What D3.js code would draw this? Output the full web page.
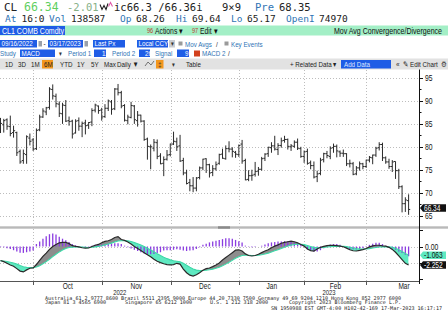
<!DOCTYPE html>
<meta charset="utf-8">
<style>
body {
  margin: 0;
  background: #fff;
  overflow: hidden;
}
svg { display: block; }
.mono { font-family: "DejaVu Sans Mono", monospace; }
.nar { font-family: "Liberation Sans", Arial, sans-serif; }
.grid { stroke: #bdbdbd; stroke-width: 1; stroke-dasharray: 1,2; shape-rendering: crispEdges; }
</style>
<body>
<script src="https://d3js.org/d3.v7.min.js"></script>
<script>

// ---- data (CL1 COMB Comdty, daily, 09/16/2022 - 03/17/2023) ----
var holidays = ["2022-11-24", "2022-12-26", "2023-01-02", "2023-01-16", "2023-02-20"];

var opens = [85.3,84.8,85.9,84.4,83.1,83.1,79.0,77.0,78.3,81.9,81.5,
  79.6,83.7,86.5,87.6,88.6,92.5,91.0,89.3,87.2,89.0,85.7,85.6,83.0,85.7,84.5,85.2,84.7,85.4,88.0,88.9,88.0,
  86.6,88.4,89.8,88.3,92.6,91.8,89.0,85.7,86.4,88.9,85.7,86.9,85.6,81.7,80.0,79.7,80.9,78.0,76.4,77.3,78.3,
  80.6,81.1,80.2,77.0,74.3,72.2,71.5,71.0,73.3,75.4,77.4,76.1,74.4,75.2,76.4,78.4,77.4,79.6,79.5,78.8,78.3,
  80.6,77.0,72.9,73.7,74.0,74.7,75.1,77.5,78.5,79.8,80.2,79.4,80.3,81.4,81.6,80.0,80.1,81.0,79.6,77.9,
  79.0,76.5,75.9,73.5,74.2,77.2,78.5,77.9,79.8,80.1,78.9,78.6,78.5,76.3,76.3,74.1,75.4,76.3,75.7,
  77.1,77.6,78.2,79.8,80.5,77.6,76.7,75.7,76.8,74.8,71.3,67.6,68.26];

var highs = [86.3,86.1,86.2,86.8,84.6,83.3,79.4,79.4,82.5,82.9,81.9,
  84.0,87.0,88.4,88.7,93.0,93.6,91.6,89.9,89.6,90.2,86.6,85.9,86.0,86.4,85.5,85.9,85.4,88.4,89.4,89.0,88.5,
  89.3,90.3,90.2,92.8,93.7,92.2,89.3,87.0,89.8,89.1,87.8,87.0,85.8,82.0,80.5,81.7,81.6,78.6,77.9,79.3,80.7,
  83.3,82.0,82.6,77.6,75.0,73.0,73.4,73.4,75.7,77.4,77.5,76.3,76.0,76.8,78.5,79.6,80.3,81.2,79.9,79.1,80.5,
  81.5,77.4,74.9,75.0,76.7,75.6,77.8,78.6,80.0,81.0,82.4,80.8,82.0,82.4,81.8,80.6,81.4,81.8,80.0,79.2,
  79.6,77.0,76.8,74.8,77.6,78.7,79.1,80.1,80.7,80.5,79.2,79.4,78.6,77.2,76.7,75.8,76.8,76.5,77.2,
  78.0,78.3,80.0,81.0,80.9,77.9,77.4,77.1,76.8,75.2,71.6,69.0,69.64];

var lows = [83.0,83.1,83.7,82.3,82.0,78.0,76.3,76.3,76.3,80.3,79.1,
  79.3,83.4,86.3,86.9,88.1,90.3,88.6,86.5,85.0,85.4,84.6,81.8,82.9,83.5,82.1,82.7,83.9,84.5,87.5,87.2,85.7,
  86.3,87.8,87.0,88.0,91.2,88.4,85.5,84.9,86.2,85.0,84.4,85.3,81.3,77.2,75.1,79.0,77.3,76.2,73.6,77.0,77.9,
  80.4,79.1,76.7,73.8,71.8,70.3,70.1,70.3,72.9,74.9,74.3,73.3,73.6,74.8,76.1,77.4,77.2,78.8,77.7,77.6,77.8,
  76.3,72.7,72.5,72.6,73.5,73.7,74.8,76.9,77.8,78.7,79.2,78.2,79.8,80.9,79.4,79.1,79.8,79.3,77.6,76.5,
  76.1,75.1,73.1,72.3,73.8,76.6,77.5,77.3,78.7,77.7,77.8,77.8,75.8,75.5,73.8,73.8,74.8,75.1,75.4,
  76.6,76.2,77.8,79.2,76.9,76.3,75.2,74.5,73.0,70.8,65.7,65.8,65.17];

var closes = [85.1,85.7,84.5,82.9,83.5,78.7,76.7,78.5,82.2,81.2,79.5,
  83.6,86.5,87.8,88.5,92.6,91.1,89.4,87.3,89.1,85.6,85.5,82.8,85.6,84.5,85.1,84.6,85.3,87.9,89.1,87.9,86.5,
  88.4,90.0,88.2,92.6,91.8,88.9,85.8,86.5,89.0,85.9,86.9,85.6,81.6,80.1,80.0,81.0,77.9,76.3,77.2,78.2,80.6,
  81.2,80.0,76.9,74.3,72.0,71.5,71.0,73.2,75.4,77.3,76.1,74.3,75.2,76.1,78.3,77.5,79.6,79.5,79.0,78.4,80.3,
  76.9,72.8,73.7,73.8,74.6,75.1,77.4,78.4,79.9,80.2,79.5,80.3,81.3,81.6,80.1,80.2,81.0,79.7,77.9,78.9,
  76.4,75.9,73.4,74.1,77.1,78.5,78.1,79.7,80.1,79.1,78.6,78.5,76.3,76.4,74.0,75.4,76.3,75.7,77.1,
  77.7,78.2,79.7,80.5,77.6,76.7,75.7,76.7,74.8,71.3,67.6,68.4,66.34];

var macd = [-1.70,-1.85,-2.05,-2.25,-2.40,-2.70,-3.00,-3.10,-2.85,-2.65,-2.60,
  -2.20,-1.70,-1.20,-0.80,-0.35,0.00,0.25,0.45,0.50,0.50,0.35,0.10,0.02,-0.05,-0.15,-0.20,-0.18,0.00,0.15,0.25,0.45,
  0.62,0.70,0.85,1.10,1.20,0.85,0.75,0.55,0.30,0.00,-0.25,-0.50,-0.75,-1.00,-1.25,-1.55,-1.80,-1.97,-2.10,-2.20,-2.25,
  -2.20,-2.05,-2.15,-2.75,-3.20,-3.50,-3.60,-3.45,-3.20,-2.90,-2.70,-2.62,-2.45,-2.25,-2.00,-1.65,-1.35,-1.05,-0.75,-0.45,-0.40,
  -0.55,-0.90,-1.10,-1.16,-1.10,-0.95,-0.75,-0.55,-0.40,-0.15,0.04,0.20,0.40,0.50,0.58,0.65,0.58,0.45,0.25,0.05,
  -0.30,-0.50,-0.55,-0.30,-0.10,0.02,0.10,0.15,0.14,0.10,0.05,-0.03,-0.20,-0.40,-0.52,-0.55,-0.48,-0.38,-0.25,
  -0.05,0.08,0.15,0.15,0.08,0.05,-0.10,-0.35,-0.70,-1.15,-1.60,-2.05,-2.252];

var signal = [-1.75,-1.77,-1.83,-1.91,-2.01,-2.15,-2.32,-2.47,-2.55,-2.57,-2.58,
  -2.50,-2.34,-2.11,-1.85,-1.55,-1.24,-0.94,-0.66,-0.43,-0.24,-0.12,-0.08,-0.06,-0.06,-0.08,-0.10,-0.12,-0.10,-0.05,0.01,0.10,
  0.20,0.30,0.41,0.55,0.68,0.71,0.72,0.69,0.61,0.49,0.34,0.17,-0.01,-0.21,-0.42,-0.65,-0.88,-1.10,-1.30,-1.48,-1.63,
  -1.74,-1.80,-1.87,-2.05,-2.28,-2.52,-2.74,-2.88,-2.94,-2.93,-2.89,-2.84,-2.76,-2.66,-2.53,-2.35,-2.15,-1.93,-1.69,-1.44,-1.24,
  -1.10,-1.06,-1.07,-1.09,-1.09,-1.06,-1.00,-0.91,-0.81,-0.68,-0.53,-0.39,-0.23,-0.08,0.05,0.17,0.25,0.29,0.28,0.23,
  0.12,0.00,-0.11,-0.15,-0.14,-0.11,-0.07,-0.03,0.00,0.02,0.03,0.02,-0.02,-0.10,-0.18,-0.25,-0.30,-0.32,-0.31,
  -0.26,-0.19,-0.12,-0.07,-0.04,-0.02,-0.04,-0.10,-0.22,-0.41,-0.60,-0.85,-1.063];

var hist = [-0.05,-0.10,-0.20,-0.30,-0.45,-0.60,-0.75,-0.78,-0.70,-0.60,-0.50,
  0.30,0.60,0.95,1.25,1.50,1.60,1.45,1.20,0.95,0.75,0.55,0.30,0.15,0.05,-0.03,-0.08,-0.05,0.10,0.20,0.25,0.25,
  0.30,0.35,0.35,0.40,0.40,0.30,0.10,-0.10,-0.25,-0.40,-0.55,-0.70,-0.85,-0.95,-0.95,-0.90,-0.80,-0.70,-0.50,-0.45,-0.45,
  -0.40,-0.35,-0.40,-0.50,-0.55,-0.50,-0.45,-0.30,-0.10,0.20,0.35,0.50,0.60,0.70,0.80,0.90,1.00,1.00,0.95,0.80,0.65,
  0.50,0.10,-0.05,-0.08,-0.05,0.00,0.10,0.25,0.40,0.50,0.55,0.60,0.62,0.65,0.62,0.55,0.48,0.38,0.20,0.02,
  -0.35,-0.50,-0.60,-0.60,-0.45,-0.20,0.10,0.25,0.30,0.30,0.20,0.05,-0.15,-0.30,-0.35,-0.35,-0.30,-0.20,-0.05,
  0.20,0.35,0.45,0.45,0.30,0.10,-0.10,-0.25,-0.40,-0.60,-0.80,-1.00,-1.19];

var priceTicks = [65, 70, 75, 80, 85, 90, 95];
var macdTicks = [2, 0, -2, -4];
var lastPx = "66.34", lastMacd = "-2.252", lastSignal = "-1.063";

// ---- layout ----
var W = 448, H = 322;
var plotR = 419, priceTop = 69.5, priceBot = 226, macdTop = 229, macdBot = 281;

var svg = d3.select("body").append("svg").attr("width", W).attr("height", H);

// trading days
var fmt = d3.timeFormat("%Y-%m-%d");
var dates = d3.timeDay.range(new Date(2022, 8, 16), new Date(2023, 2, 18))
  .filter(function(d) { return d.getDay() % 6 !== 0 && holidays.indexOf(fmt(d)) < 0; });

var x = d3.scaleLinear().domain([0, dates.length - 1]).range([0.5, 408.6]);
var yP = d3.scaleLinear().domain([65, 95]).range([215.6, 78]);
var yM = d3.scaleLinear().domain([0, -2]).range([246.5, 262.9]);
var step = x(1) - x(0);

// month boundaries
var monthStarts = [];
dates.forEach(function(d, i) {
  if (i > 0 && d.getMonth() !== dates[i - 1].getMonth()) monthStarts.push(i);
});
var gridX = monthStarts.map(function(i) { return x(i - 0.9); });

// narrow (condensed) text is drawn squeezed horizontally
function txt(g, px, py, s, cls, size, fill, anchor) {
  var t = g.append("text").attr("class", cls)
    .style("font-size", size + "px").attr("fill", fill || "#111")
    .attr("text-anchor", anchor || "start").text(s);
  if (cls === "nar") t.attr("transform", "translate(" + px + "," + py + ") scale(0.8,1)");
  else t.attr("x", px).attr("y", py);
  return t;
}
function box(g, px, py, w, h, fill) {
  return g.append("rect").attr("x", px).attr("y", py).attr("width", w).attr("height", h).attr("fill", fill);
}

// ---- header ----
var hd = svg.append("g");
var blueLbl = "#2f74b5", boxBlue = "#1f5de6";
txt(hd, 4, 10.8, "CL", "mono", 11, "#222");
txt(hd, 24, 10.8, "66.34", "mono", 11.5, "#5fcf5f");
txt(hd, 67, 10.8, "-2.01", "mono", 10.5, "#86b086");
hd.append("path").attr("d", "M100,4.5 L102,9.5 L104,5.5 L106,9.5 L108,3.5").attr("fill", "none").attr("stroke", "#222").attr("stroke-width", 1.1);
hd.append("path").attr("d", "M108.5,6.5 L110.5,2.5 L112.5,6.5").attr("fill", "none").attr("stroke", "#e05aa8").attr("stroke-width", 1.1);
txt(hd, 114, 10.8, "ic66.3 /66.36i", "mono", 10.5, "#222");
txt(hd, 222, 10.8, "9\u00d79", "mono", 10.5, "#222");
txt(hd, 255, 10.8, "Pre", "mono", 10.5, blueLbl);
txt(hd, 279, 10.8, "68.35", "mono", 10.5, "#222");

var row2 = [["At", 5, 1], ["16:0", 21.5, 0], ["Vol", 49, 1], ["138587", 71, 0], ["Op", 120, 1], ["68.26", 136, 0],
  ["Hi", 176, 1], ["69.64", 192, 0], ["Lo", 231, 1], ["65.17", 247, 0], ["OpenI", 286, 1], ["74970", 319, 0]];
row2.forEach(function(r) { txt(hd, r[1], 21.6, r[0], "mono", 9.5, r[2] ? blueLbl : "#222"); });

// green title band
box(hd, 0, 25.5, W, 10, "#a3efc6");
box(hd, 0, 26, 65, 9, boxBlue);
txt(hd, 2, 33.6, "CL1 COMB Comdty", "nar", 8.8, "#fff");
txt(hd, 147, 33.4, "96", "nar", 7, "#b8402a");
txt(hd, 155, 33.6, "Actions \u25be", "nar", 8.5, "#111");
txt(hd, 192, 33.4, "97", "nar", 7, "#b8402a");
txt(hd, 200, 33.6, "Edit \u25be", "nar", 8.5, "#111");
txt(hd, 442, 33.6, "Mov Avg Convergence/Divergence", "nar", 8.8, "#111", "end");

// date range row
function inBox(px, py, w, s) {
  box(hd, px, py, w, 7.5, boxBlue);
  txt(hd, px + 1.5, py + 6.3, s, "nar", 7.8, "#fff");
}
inBox(0, 40, 37, "09/16/2022");
box(hd, 38.5, 41, 3.5, 5.5, "#9aa0aa");
txt(hd, 43.5, 46.3, "-", "nar", 8, "#222");
inBox(48, 40, 35, "03/17/2023");
box(hd, 84.5, 41, 3.5, 5.5, "#9aa0aa");
inBox(93, 40, 32, "Last Px");
inBox(137, 40, 31, "Local CCY");
box(hd, 169, 40, 6, 7.5, "#c9ccd2");
txt(hd, 172, 46.3, "\u25be", "nar", 7, "#333", "middle");
box(hd, 178.5, 41.5, 4, 4, "#9a9a9a");
txt(hd, 185, 46.5, "Mov Avgs", "nar", 7.8, blueLbl);
txt(hd, 216, 46.5, "/", "nar", 8, "#333");
box(hd, 224.5, 41.5, 4, 4, "#9a9a9a");
txt(hd, 231, 46.5, "Key Events", "nar", 7.8, blueLbl);

// study row
txt(hd, 0, 56, "Study", "nar", 7.8, blueLbl);
inBox(20, 49.5, 35, "MACD");
txt(hd, 59, 56, "\u25be", "nar", 7, "#333");
txt(hd, 68, 56, "Period 1", "nar", 7.8, blueLbl);
inBox(94, 49.5, 12, "");
txt(hd, 102, 55.8, "12", "nar", 7.8, "#fff");
txt(hd, 112, 56, "Period 2", "nar", 7.8, blueLbl);
inBox(139, 49.5, 11, "");
txt(hd, 145, 55.8, "26", "nar", 7.8, "#fff");
txt(hd, 155, 56, "Signal", "nar", 7.8, blueLbl);
inBox(177, 49.5, 12, "");
txt(hd, 185, 55.8, "9", "nar", 7.8, "#fff");
box(hd, 194, 50.5, 6, 6, "#d2401c");
txt(hd, 202, 56, "MACD 2", "nar", 7.8, blueLbl);
txt(hd, 228, 56, "/", "nar", 8, "#333");

// toolbar
box(hd, 0, 58.5, W, 11, "#e2e2e2");
box(hd, 42, 60, 11, 8.5, "#f2961d");
[["1D", 5], ["3D", 18], ["1M", 31], ["6M", 44], ["YTD", 60], ["1Y", 77], ["5Y", 91], ["Max", 104], ["Daily \u25bc", 117]]
  .forEach(function(t) { txt(hd, t[1], 66.6, t[0], "nar", 7.8, "#222"); });
hd.append("path").attr("d", "M145,66 L148,62 L151,65 L154,61").attr("fill", "none").attr("stroke", "#555").attr("stroke-width", 0.8);
box(hd, 156, 60, 7.5, 8.5, "#f2961d");
txt(hd, 159.7, 66.5, "\u2021", "nar", 7, "#333", "middle");
txt(hd, 172, 66.5, "\u25be", "nar", 7, "#333");
txt(hd, 186, 66.6, "Table", "nar", 7.8, "#222");
txt(hd, 290, 66.6, "+ Related Data \u25be", "nar", 7.8, "#222");
box(hd, 341, 60, 50, 8.5, boxBlue);
txt(hd, 344, 66.6, "Add Data", "nar", 7.8, "#dfe8ff");
txt(hd, 396, 66.6, "\u00ab", "nar", 8, "#222");
txt(hd, 403, 66.6, "\u270e Edit Chart", "nar", 7.8, "#222");
txt(hd, 441, 66.8, "\u2699", "nar", 8, "#333");

// ---- price panel ----
var pg = svg.append("g");
pg.selectAll(".hg").data(priceTicks).enter().append("line").attr("class", "grid")
  .attr("x1", 0).attr("x2", plotR).attr("y1", function(d) { return Math.round(yP(d)) + 0.5; })
  .attr("y2", function(d) { return Math.round(yP(d)) + 0.5; });
pg.selectAll(".vg").data(gridX).enter().append("line").attr("class", "grid")
  .attr("x1", function(d) { return Math.round(d) + 0.5; }).attr("x2", function(d) { return Math.round(d) + 0.5; })
  .attr("y1", priceTop).attr("y2", priceBot);

svg.append("clipPath").attr("id", "pclip").append("rect")
  .attr("x", 0).attr("y", priceTop).attr("width", plotR).attr("height", priceBot - priceTop);

var bars = pg.append("g").attr("clip-path", "url(#pclip)")
  .attr("stroke", "#2b2b2b").attr("stroke-width", 1).attr("fill", "none");
bars.selectAll("path").data(closes).enter().append("path")
  .attr("d", function(c, i) {
    var cx = x(i);
    return "M" + cx + "," + yP(highs[i]) + "V" + yP(lows[i]) +
      "M" + (cx - 1.6) + "," + yP(opens[i]) + "H" + cx +
      "M" + cx + "," + yP(c) + "H" + (cx + 1.6);
  });

// separator between panels
box(svg, 0, 226.3, W, 2.4, "#b9b9b9");
box(svg, 218, 226.3, 12, 2.4, "#8a8a8a");

// ---- MACD panel ----
var mg = svg.append("g");
[0, -2].forEach(function(v) {
  mg.append("line").attr("class", "grid").attr("x1", 0).attr("x2", plotR)
    .attr("y1", Math.round(yM(v)) + 0.5).attr("y2", Math.round(yM(v)) + 0.5);
});
mg.selectAll(".vg").data(gridX).enter().append("line").attr("class", "grid")
  .attr("x1", function(d) { return Math.round(d) + 0.5; }).attr("x2", function(d) { return Math.round(d) + 0.5; })
  .attr("y1", macdTop).attr("y2", macdBot);

var idx = d3.range(dates.length);
var defs = svg.append("defs");
defs.append("clipPath").attr("id", "above").append("path")
  .attr("d", d3.area().x(function(i) { return x(i); }).y0(macdTop).y1(function(i) { return yM(signal[i]); })(idx));
defs.append("clipPath").attr("id", "below").append("path")
  .attr("d", d3.area().x(function(i) { return x(i); }).y0(function(i) { return yM(signal[i]); }).y1(macdBot)(idx));

var between = d3.area().x(function(i) { return x(i); })
  .y0(function(i) { return yM(signal[i]); }).y1(function(i) { return yM(macd[i]); });
mg.append("path").attr("d", between(idx)).attr("fill", "#8d8d8d").attr("clip-path", "url(#above)");
mg.append("path").attr("d", between(idx)).attr("fill", "#5fe9c1").attr("clip-path", "url(#below)");

// histogram
mg.append("g").selectAll("line").data(hist).enter().append("line")
  .attr("x1", function(d, i) { return x(i); }).attr("x2", function(d, i) { return x(i); })
  .attr("y1", yM(0)).attr("y2", function(d) { return yM(d); })
  .attr("stroke", "#8a3ce0").attr("stroke-width", 1.3);

mg.append("path").attr("d", d3.line().x(function(i) { return x(i); }).y(function(i) { return yM(signal[i]); })(idx))
  .attr("fill", "none").attr("stroke", "#3cd9a8").attr("stroke-width", 1.1);
mg.append("path").attr("d", d3.line().x(function(i) { return x(i); }).y(function(i) { return yM(macd[i]); })(idx))
  .attr("fill", "none").attr("stroke", "#2a2a2a").attr("stroke-width", 1.2);

// bottom time axis
mg.append("line").attr("x1", 0).attr("x2", plotR).attr("y1", macdBot + 0.5).attr("y2", macdBot + 0.5)
  .attr("stroke", "#555").attr("stroke-width", 1);
mg.selectAll(".mt").data(gridX).enter().append("line")
  .attr("x1", function(d) { return Math.round(d) + 0.5; }).attr("x2", function(d) { return Math.round(d) + 0.5; })
  .attr("y1", macdBot).attr("y2", macdBot + 4).attr("stroke", "#555");

var monthNames = d3.timeFormat("%b");
var lastMonthDays = d3.timeDay.range(new Date(2023, 2, 1), new Date(2023, 3, 1))
  .filter(function(d) { return d.getDay() % 6 !== 0; }).length;
monthStarts.forEach(function(s, k) {
  var x0 = gridX[k];
  var x1 = k + 1 < gridX.length ? gridX[k + 1] : x0 + lastMonthDays * step;
  txt(mg, (x0 + x1) / 2, 288.8, monthNames(dates[s]), "nar", 8.2, "#222", "middle");
});
txt(mg, (x(0) + gridX[3]) / 2, 294.8, "2022", "nar", 7.4, "#222", "middle");
txt(mg, (gridX[3] + plotR) / 2, 294.8, "2023", "nar", 7.4, "#222", "middle");

// ---- right axis ----
var ax = svg.append("g");
ax.append("line").attr("x1", plotR + 0.5).attr("x2", plotR + 0.5).attr("y1", priceTop).attr("y2", macdBot + 3)
  .attr("stroke", "#111").attr("stroke-width", 1);
d3.range(65, 97.5, 2.5).forEach(function(v) {
  var yy = Math.round(yP(v)) + 0.5, major = v % 5 === 0;
  ax.append("line").attr("x1", plotR).attr("x2", plotR + (major ? 4 : 2.5)).attr("y1", yy).attr("y2", yy).attr("stroke", "#111");
});
priceTicks.forEach(function(v) { txt(ax, 425, yP(v) + 3, v, "nar", 8.5, "#111"); });
macdTicks.forEach(function(v) {
  var yy = Math.round(yM(v)) + 0.5;
  ax.append("line").attr("x1", plotR).attr("x2", plotR + 4).attr("y1", yy).attr("y2", yy).attr("stroke", "#111");
});
txt(ax, 425, yM(0) + 3, "0.00", "nar", 8.5, "#111");

function valueTag(yc, s, fill, color) {
  ax.append("path").attr("d", "M" + (plotR + 1) + "," + yc + " L" + (plotR + 4) + "," + (yc - 3.8) + " H" + 446 +
    " V" + (yc + 3.8) + " H" + (plotR + 4) + " Z").attr("fill", fill);
  txt(ax, plotR + 5, yc + 2.8, s, "nar", 8.2, color);
}
valueTag(yP(+lastPx) - 1.4, lastPx, "#111", "#fff");
valueTag(yM(+lastSignal), lastSignal, "#5fe9c1", "#111");
valueTag(yM(+lastMacd), lastMacd, "#111", "#fff");

// ---- footer ----
var ft = svg.append("g");
function foot(px, py, s, w) {
  txt(ft, px, py, s, "mono", 5, "#222").attr("textLength", w).attr("lengthAdjust", "spacingAndGlyphs");
}
foot(45, 299.5, "Australia 61 2 9777 8600 Brazil 5511 2395 9000 Europe 44 20 7330 7500 Germany 49 69 9204 1210 Hong Kong 852 2977 6000", 356);
foot(45, 304.2, "Japan 81 3 4565 6900", 61);
foot(125, 304.2, "Singapore 65 6212 1000", 67);
foot(210, 304.2, "U.S. 1 212 318 2000", 58);
foot(289, 304.2, "Copyright 2023 Bloomberg Finance L.P.", 112);
foot(271, 309.5, "SN 1950988 EST  GMT-4:00 H102-42-169 17-Mar-2023 16:17:17", 171);

</script>
